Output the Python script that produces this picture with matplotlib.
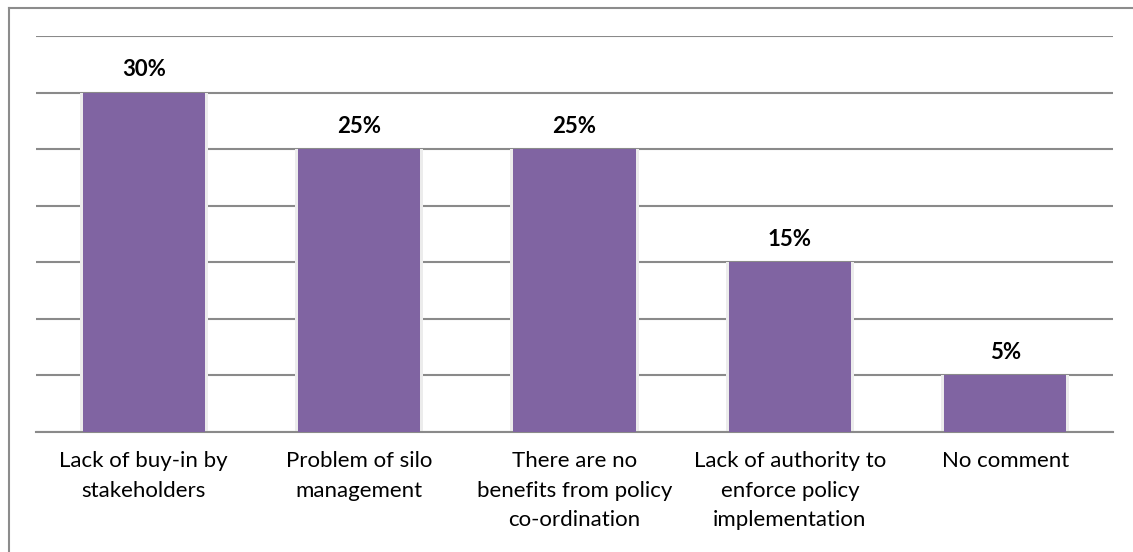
import matplotlib.pyplot as plt

categories = ["Lack of buy-in by\nstakeholders",
              "Problem of silo\nmanagement",
              "There are no\nbenefits from policy\nco-ordination",
              "Lack of authority to\nenforce policy\nimplementation",
              "No comment"]
values = [30, 25, 25, 15, 5]
value_labels = ["30%", "25%", "25%", "15%", "5%"]
y_ticks = [0, 5, 10, 15, 20, 25, 30, 35]

plt.rcParams['font.family'] = ['Lato', 'DejaVu Sans']

fig = plt.figure(figsize=(11.33, 5.52), dpi=100)
ax = fig.add_axes([36 / 1133, 120 / 552, (1113 - 36) / 1133, 396 / 552])

x = list(range(len(values)))
# soft shadow behind bars
ax.bar(x, values, width=0.595, color="#ececec", zorder=2)
ax.bar(x, values, width=0.567, color="#8064A2", zorder=3)

for i, (v, lab) in enumerate(zip(values, value_labels)):
    ax.annotate(lab, (i, v), xytext=(0, 9), textcoords="offset points",
                ha="center", va="bottom", fontsize=16, fontweight="bold")

ax.set_xlim(-0.5, len(values) - 0.5)
ax.set_ylim(0, 35)
ax.set_yticks(y_ticks)
ax.set_yticklabels([])
ax.tick_params(axis="y", length=0)
ax.grid(axis="y", color="#8a8a8a", linewidth=1.5, zorder=0)
ax.set_axisbelow(True)
for s in ["top", "right", "left"]:
    ax.spines[s].set_visible(False)
ax.spines["bottom"].set_color("#8a8a8a")
ax.spines["bottom"].set_linewidth(1.5)

ax.set_xticks(x)
ax.set_xticklabels(categories, fontsize=16, linespacing=1.58, va="top")
ax.tick_params(axis="x", length=0, pad=14)

# outer chart frame (top and left edges visible)
fig.add_artist(plt.Line2D([9 / 1133, 9 / 1133], [0, 1 - 8 / 552], color="#8c8c8c", lw=1.5))
fig.add_artist(plt.Line2D([9 / 1133, 1], [1 - 8 / 552, 1 - 8 / 552], color="#8c8c8c", lw=1.5))

fig.savefig("out.png", dpi=100)
